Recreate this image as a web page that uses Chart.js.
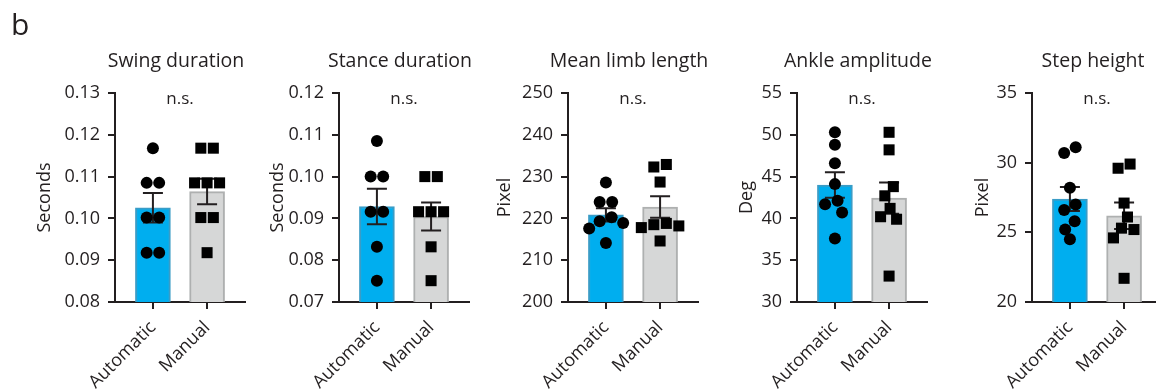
<!DOCTYPE html>
<html>
<head>
<meta charset="utf-8">
<script src="https://cdn.jsdelivr.net/npm/chart.js@4.4.1/dist/chart.umd.min.js"></script>
<style>
  html, body { margin: 0; padding: 0; background: #fff; }
  #wrap { position: relative; width: 1156px; height: 392px; overflow: hidden; }
  #wrap canvas { position: absolute; left: 0; top: 0; }
</style>
</head>
<body>
<div id="wrap">
  <canvas id="c0" width="1200" height="392"></canvas>
  <canvas id="c1" width="1200" height="392"></canvas>
  <canvas id="c2" width="1200" height="392"></canvas>
  <canvas id="c3" width="1200" height="392"></canvas>
  <canvas id="c4" width="1200" height="392"></canvas>
</div>
<script>
// Данные
const groups = ['Automatic', 'Manual'];
const titles = ['Swing duration', 'Stance duration', 'Mean limb length', 'Ankle amplitude', 'Step height'];
const yTitles = ['Seconds', 'Seconds', 'Pixel', 'Deg', 'Pixel'];
const yMin = [0.08, 0.07, 200, 30, 20];
const yMax = [0.13, 0.12, 250, 55, 35];
const yStep = [0.01, 0.01, 10, 5, 5];
const yDecimals = [2, 2, 0, 0, 0];

const swingAuto = [0.1168, 0.1085, 0.1085, 0.1002, 0.1002, 0.0918, 0.0918];
const swingManual = [0.1168, 0.1168, 0.1085, 0.1085, 0.1085, 0.1002, 0.1002, 0.0918];
const stanceAuto = [0.1085, 0.1000, 0.1000, 0.0916, 0.0916, 0.0832, 0.0751];
const stanceManual = [0.1000, 0.1000, 0.0916, 0.0916, 0.0916, 0.0832, 0.0751];
const limbAuto = [228.6, 223.9, 223.9, 220.3, 219.3, 218.9, 217.6, 214.1];
const limbManual = [232.9, 232.3, 228.7, 218.8, 218.5, 218.2, 217.8, 214.6];
const ankleAuto = [50.3, 48.8, 46.6, 44.1, 42.1, 41.7, 40.7, 37.6];
const ankleManual = [50.3, 48.2, 43.8, 42.7, 41.2, 40.2, 39.9, 33.1];
const stepAuto = [31.1, 30.7, 28.2, 27.0, 26.6, 25.8, 25.2, 24.5];
const stepManual = [29.9, 29.6, 27.1, 26.1, 25.3, 25.2, 24.6, 21.7];

const autoSets = [swingAuto, stanceAuto, limbAuto, ankleAuto, stepAuto];
const manualSets = [swingManual, stanceManual, limbManual, ankleManual, stepManual];

// Раскладка панелей
const axisLeft = [115, 339, 568, 797, 1032];
const yTitleX = [45, 278, 505, 747, 983];
const AXIS_W = 130;
const CANVAS_W = 1200;
const GAP = 12.5;

const BLUE = '#00aeef', BLUE_EDGE = '#3a9cc6';
const GRAY = '#d6d7d7', GRAY_EDGE = '#aeb0b0';
const INK = '#231f20';

Chart.defaults.font.family = '"Open Sans", sans-serif';
Chart.defaults.font.size = 18;
Chart.defaults.color = INK;

function mean(a) { return a.reduce((s, v) => s + v, 0) / a.length; }
function sem(a) {
    const m = mean(a);
    const v = a.reduce((s, x) => s + (x - m) * (x - m), 0) / (a.length - 1);
    return Math.sqrt(v / a.length);
}

// Простой beeswarm: раздвигаем точки, чтобы не перекрывались
function swarm(vals, chart, center) {
    const ys = chart.scales.y, xs = chart.scales.x;
    const pxPerX = Math.abs(xs.getPixelForValue(1) - xs.getPixelForValue(0));
    const order = vals.map((v, i) => i).sort((a, b) => vals[b] - vals[a]);
    const placed = [];
    order.forEach(i => {
        const py = ys.getPixelForValue(vals[i]);
        let off = 0;
        for (let s = 0; s < 80; s += 0.5) {
            const tries = s === 0 ? [0] : [-s, s];
            const ok = tries.find(x => placed.every(p => Math.hypot(p.px - x, p.py - py) >= GAP));
            if (ok !== undefined) { off = ok; break; }
        }
        placed.push({ i, px: off, py });
    });
    // центрируем связанные группы
    const parent = placed.map((p, k) => k);
    const find = k => parent[k] === k ? k : (parent[k] = find(parent[k]));
    for (let a = 0; a < placed.length; a++) {
        for (let b = a + 1; b < placed.length; b++) {
            const d = Math.hypot(placed[a].px - placed[b].px, placed[a].py - placed[b].py);
            if (d < GAP + 0.6) parent[find(a)] = find(b);
        }
    }
    const groupsMap = {};
    placed.forEach((p, k) => { (groupsMap[find(k)] = groupsMap[find(k)] || []).push(p); });
    Object.values(groupsMap).forEach(g => {
        const m = g.reduce((s, p) => s + p.px, 0) / g.length;
        g.forEach(p => { p.px -= m; });
    });
    const out = [];
    placed.forEach(p => { out[p.i] = { x: center + p.px / pxPerX, y: vals[p.i] }; });
    return out;
}

const errorBars = {
    id: 'errorBars',
    afterDatasetDraw(chart, args) {
        if (args.index !== 0) return;
        const ds = chart.data.datasets[0];
        const { ctx, scales: { x, y } } = chart;
        ctx.save();
        ctx.strokeStyle = INK;
        ctx.lineWidth = 2;
        ds.data.forEach((pt, k) => {
            const cx = x.getPixelForValue(pt.x);
            const top = y.getPixelForValue(pt.y + ds.sem[k]);
            const bot = y.getPixelForValue(pt.y - ds.sem[k]);
            ctx.beginPath();
            ctx.moveTo(cx, top); ctx.lineTo(cx, bot);
            ctx.moveTo(cx - 10, top); ctx.lineTo(cx + 10, top);
            ctx.moveTo(cx - 10, bot); ctx.lineTo(cx + 10, bot);
            ctx.stroke();
        });
        ctx.restore();
    }
};

function makePanel(idx) {
    const auto = autoSets[idx], manual = manualSets[idx];
    const padLeft = yTitleX[idx] - 10.8;
    const yWidth = axisLeft[idx] - padLeft;
    const padRight = CANVAS_W - (axisLeft[idx] + AXIS_W);

    const textPlugin = {
        id: 'panelText',
        afterDraw(chart) {
            const { ctx, chartArea, scales: { x } } = chart;
            const mid = x.getPixelForValue(0.5);
            ctx.save();
            ctx.fillStyle = INK;
            ctx.textAlign = 'center';
            ctx.textBaseline = 'alphabetic';
            ctx.font = '19.5px "Open Sans", sans-serif';
            ctx.fillText(titles[idx], mid - 4, chartArea.top - 26);
            ctx.font = '17px "Open Sans", sans-serif';
            ctx.fillText('n.s.', mid, chartArea.top + 11);
            if (idx === 0) {
                ctx.textAlign = 'left';
                ctx.font = '30px "Open Sans", sans-serif';
                ctx.fillText('b', 11, 35);
            }
            ctx.restore();
        }
    };

    const chart = new Chart(document.getElementById('c' + idx), {
        type: 'bar',
        data: {
            datasets: [
                {
                    type: 'bar',
                    data: [{ x: 0, y: mean(auto) }, { x: 1, y: mean(manual) }],
                    sem: [sem(auto), sem(manual)],
                    backgroundColor: [BLUE, GRAY],
                    borderColor: [BLUE_EDGE, GRAY_EDGE],
                    borderWidth: 2,
                    barThickness: 35,
                    order: 2
                },
                {
                    type: 'scatter',
                    data: auto.map(v => ({ x: 0, y: v })),
                    pointStyle: 'circle',
                    radius: 6,
                    borderWidth: 0,
                    backgroundColor: '#000',
                    order: 1
                },
                {
                    type: 'scatter',
                    data: manual.map(v => ({ x: 1, y: v })),
                    pointStyle: 'rect',
                    radius: 7.8,
                    borderWidth: 0,
                    backgroundColor: '#000',
                    order: 0
                }
            ]
        },
        options: {
            responsive: false,
            animation: false,
            layout: { padding: { left: padLeft, right: padRight, top: 93, bottom: 0 } },
            plugins: { legend: { display: false }, tooltip: { enabled: false } },
            scales: {
                x: {
                    type: 'linear',
                    offset: false,
                    min: -0.7,
                    max: 1.7,
                    afterBuildTicks: s => { s.ticks = [{ value: 0 }, { value: 1 }]; },
                    afterFit: s => { s.height = 90; },
                    ticks: {
                        callback: v => groups[v],
                        minRotation: 45,
                        maxRotation: 45,
                        padding: 8
                    },
                    grid: { offset: false, drawOnChartArea: false, drawTicks: true, tickLength: 7, lineWidth: 2, color: INK },
                    border: { display: true, color: INK, width: 2 }
                },
                y: {
                    min: yMin[idx],
                    max: yMax[idx],
                    afterFit: s => { s.width = yWidth; },
                    ticks: {
                        stepSize: yStep[idx],
                        callback: v => Number(v).toFixed(yDecimals[idx]),
                        padding: 8
                    },
                    title: { display: true, text: yTitles[idx], padding: 0 },
                    grid: { drawOnChartArea: false, drawTicks: true, tickLength: 7, lineWidth: 2, color: INK },
                    border: { display: true, color: INK, width: 2 }
                }
            }
        },
        plugins: [errorBars, textPlugin]
    });

    // второй проход: раскладываем точки по реальным шкалам
    chart.data.datasets[1].data = swarm(auto, chart, 0);
    chart.data.datasets[2].data = swarm(manual, chart, 1);
    chart.update('none');
    return chart;
}

const charts = [0, 1, 2, 3, 4].map(makePanel);
</script>
</body>
</html>
